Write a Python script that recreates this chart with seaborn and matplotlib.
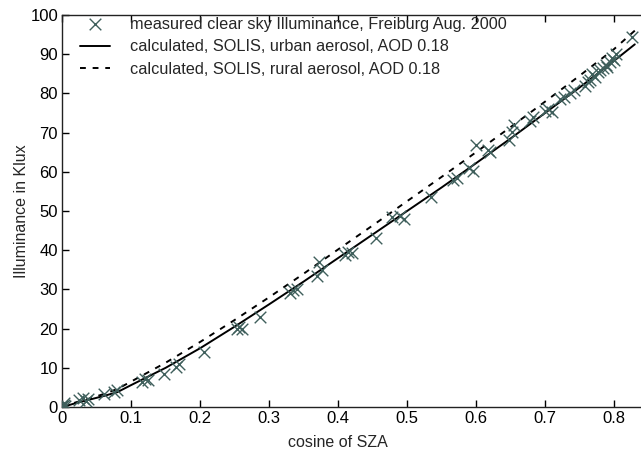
import numpy as np
import pandas as pd
import seaborn as sns
import matplotlib.pyplot as plt

# measured clear sky illuminance (cos SZA, klux)
meas_x = [0.0, 0.002, 0.004, 0.003, 0.025, 0.03, 0.035, 0.038, 0.06, 0.075, 0.08,
          0.115, 0.12, 0.125, 0.148, 0.165, 0.17, 0.205, 0.253, 0.257, 0.26,
          0.287, 0.33, 0.335, 0.34, 0.37, 0.372, 0.377, 0.41, 0.415, 0.42,
          0.455, 0.478, 0.49, 0.495, 0.535, 0.567, 0.572, 0.59, 0.595, 0.6,
          0.617, 0.62, 0.648, 0.652, 0.655, 0.678, 0.682, 0.7, 0.704, 0.71,
          0.722, 0.728, 0.736, 0.742, 0.758, 0.762, 0.765, 0.768, 0.772, 0.777,
          0.78, 0.784, 0.788, 0.79, 0.794, 0.797, 0.8, 0.803, 0.826]
meas_y = [0.3, 0.6, 0.2, 0.9, 1.8, 2.2, 1.6, 2.0, 3.2, 3.8, 4.3,
          6.3, 7.2, 6.8, 8.5, 10.2, 11.0, 14.0, 20.0, 20.5, 19.8,
          23.0, 29.0, 29.8, 30.0, 33.5, 37.0, 35.0, 38.8, 39.5, 39.2,
          43.0, 48.5, 48.7, 48.0, 53.5, 57.8, 58.5, 61.0, 60.3, 66.8,
          65.5, 65.0, 68.0, 70.2, 72.0, 73.0, 74.0, 75.5, 76.0, 75.2,
          78.5, 79.0, 80.0, 80.8, 82.0, 82.8, 83.5, 85.0, 84.2, 85.5,
          86.0, 86.5, 87.3, 86.8, 88.0, 89.0, 88.5, 90.0, 94.5]

# SOLIS model curves
calc_x = [0.0, 0.02, 0.04, 0.06, 0.08, 0.1, 0.15, 0.2, 0.25, 0.3, 0.35, 0.4,
          0.45, 0.5, 0.55, 0.6, 0.65, 0.7, 0.75, 0.8, 0.83]
urban_y = [0.0, 1.0, 1.9, 2.8, 3.8, 5.6, 10.0, 15.0, 20.5, 26.2, 32.0, 38.0,
           44.0, 50.0, 56.0, 62.2, 68.5, 75.0, 81.5, 88.3, 92.5]
rural_y = [0.0, 1.2, 2.2, 3.3, 4.6, 6.5, 11.3, 16.6, 22.2, 28.0, 34.0, 40.2,
           46.3, 52.5, 58.7, 65.0, 71.4, 77.9, 84.5, 91.3, 96.0]

sns.set_style("white")
plt.rcParams['font.family'] = ['Liberation Sans', 'DejaVu Sans']

fig = plt.figure(figsize=(6.41, 4.53), dpi=100)
ax = fig.add_axes([0.097, 0.1015, 0.903, 0.8655])

sns.scatterplot(x=meas_x, y=meas_y, marker='x', color='#3f5f5c', s=70,
                linewidth=1.0, ax=ax, zorder=3,
                label='measured clear sky Illuminance, Freiburg Aug. 2000')
sns.lineplot(x=calc_x, y=urban_y, color='black', linewidth=1.4, ax=ax,
             label='calculated, SOLIS, urban aerosol, AOD 0.18')
sns.lineplot(x=calc_x, y=rural_y, color='black', linewidth=1.4, ax=ax,
             linestyle=(0, (3, 3.5)),
             label='calculated, SOLIS, rural aerosol, AOD 0.18')

ax.set_xlim(0, 0.839)
ax.set_ylim(0, 100)
ax.set_xticks(np.arange(0, 0.81, 0.1))
ax.set_xticklabels(['0', '0.1', '0.2', '0.3', '0.4', '0.5', '0.6', '0.7', '0.8'])
ax.set_yticks(range(0, 101, 10))
ax.set_xlabel('cosine of SZA', fontsize=11.5, labelpad=6)
ax.xaxis.label.set_x(0.477)
ax.set_ylabel('Illuminance in Klux', fontsize=11.5, labelpad=1)
ax.tick_params(direction='in', length=5, width=1, labelsize=12, colors='black',
               top=True, bottom=True, left=True, right=False, pad=3)
for side in ['left', 'bottom', 'top']:
    ax.spines[side].set_color('#222222')
    ax.spines[side].set_linewidth(1.0)
ax.spines['right'].set_visible(False)

leg = ax.legend(loc='upper left', frameon=False, fontsize=11.7, handlelength=1.85,
                handletextpad=1.2, labelspacing=0.47, borderaxespad=0,
                bbox_to_anchor=(0.02, 1.012))

fig.savefig('out.png', dpi=100)
